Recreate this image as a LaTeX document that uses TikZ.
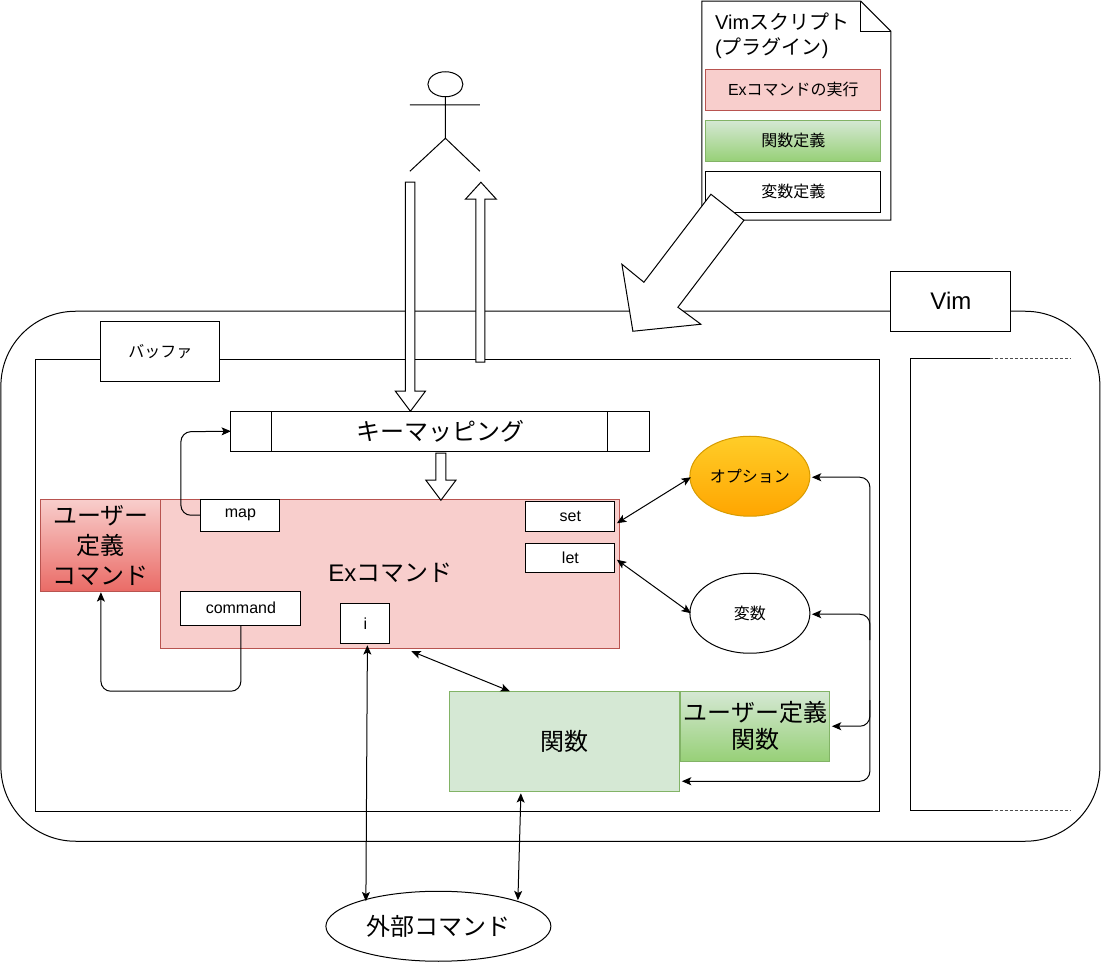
\documentclass[tikz,border=0pt]{standalone}
\usepackage{fontspec}
\setmainfont{Liberation Sans}
\newfontfamily\cjk{Noto Sans CJK JP}
\newcommand{\J}[1]{{\cjk #1}}
\newcommand{\up}[1]{\raisebox{1.5pt}{#1}}
\usetikzlibrary{arrows.meta,calc,shapes.geometric}
\definecolor{redfill}{HTML}{F8CECC}
\definecolor{redline}{HTML}{B85450}
\definecolor{redend}{HTML}{EA6B66}
\definecolor{greenfill}{HTML}{D5E8D4}
\definecolor{greenline}{HTML}{82B366}
\definecolor{greenend}{HTML}{97D077}
\definecolor{orangetop}{HTML}{FFCD28}
\definecolor{orangeend}{HTML}{FFA500}
\definecolor{orangeline}{HTML}{D79B00}
\newcommand{\bx}[7][]{\node[plainbox,#2,minimum width={(#5-#3)*0.75pt},minimum height={(#6-#4)*0.75pt},#1] at ({(#3+#5)/2},{(#4+#6)/2}) {#7};}
\tikzset{
  plainbox/.style={draw=black,rectangle,inner sep=0pt,outer sep=0pt,line width=0.75pt,align=center,font=\fontsize{12}{15}\selectfont},
  whitebox/.style={fill=white},
  big/.style={font=\fontsize{18}{22.5}\selectfont},
  bigtight/.style={font=\fontsize{18}{20.25}\selectfont},
  mid/.style={font=\fontsize{15}{18.75}\selectfont},
  exfill/.style={draw=redline,fill=redfill},
  fnfill/.style={draw=greenline,fill=greenfill},
  usercmd/.style={draw=redline,top color=redfill,bottom color=redend},
  userfn/.style={draw=greenline,top color=greenfill,bottom color=greenend},
  oval/.style={draw=black,ellipse,inner sep=0pt,outer sep=0pt,line width=0.75pt,align=center,font=\fontsize{12}{15}\selectfont},
  conn/.style={line width=0.75pt,-{Stealth[length=7pt,width=6pt,inset=1.6pt]}},
  conn2/.style={line width=0.75pt,{Stealth[length=7pt,width=6pt,inset=1.6pt]}-{Stealth[length=7pt,width=6pt,inset=1.6pt]}},
  roundpath/.style={rounded corners=7.5pt},
  blockarrow/.style={draw=black,fill=white,line width=0.75pt,line join=miter},
  thinline/.style={line width=0.75pt},
  dots/.style={line width=0.75pt,dash pattern=on 2.25pt off 1.5pt,black!70}
}
\begin{document}
\begin{tikzpicture}[x=0.75pt,y=-0.75pt]
\useasboundingbox (0.1,-0.25) rectangle (1101.1,961.75);
% containers
\draw[thinline,rounded corners=56pt] (1,311) rectangle (1100,841);
\bx{name=buffer,fill=white}{36}{359}{880}{811}{}
\bx{name=bufname,whitebox}{101}{321}{220}{381}{\J{バッファ}}
\bx[big]{name=vim,whitebox}{891}{271}{1011}{331}{Vim}
% other buffer (open rectangle)
\coordinate (ot) at (990,358);
\coordinate (ob) at (990,810);
\draw[thinline] (ot) -- (911,358) -- (911,810) -- (ob);
\draw[dots] (ot) -- (1071,358);
\draw[dots] (ob) -- (1071,810);
% key mapping
\bx[big]{name=keymap,whitebox}{231}{411}{650}{451}{\up{\J{キーマッピング}}}
\draw[thinline] (272,411) -- (272,451) (608,411) -- (608,451);
% Ex commands
\bx[big]{name=ex,exfill}{161}{499}{620}{648}{\up{Ex\J{コマンド}}}
\bx[big]{name=ucmd,usercmd}{41}{499}{161}{591}{\J{ユーザー}\\\J{定義}\\\J{コマンド}}
\bx{name=map,whitebox}{201}{499}{280}{531}{\raisebox{-1pt}{map}}
\bx{name=set,whitebox}{526}{501}{615}{531}{set}
\bx{name=let,whitebox}{526}{543}{615}{572}{let}
\bx{name=command,whitebox}{181}{591}{301}{625}{command}
\bx{name=insp,whitebox}{341}{603}{390}{643}{i}
% functions
\bx[big]{name=func,fnfill}{450}{691}{680}{791}{\up{\J{関数}}}
\bx[bigtight]{name=ufunc,userfn}{681}{691}{830}{761}{\J{ユーザー定義}\\\J{関数}}
% ellipses
\node[oval,draw=orangeline,top color=orangetop,bottom color=orangeend,minimum width=90pt,minimum height=60pt] (opt) at (750,476) {\J{オプション}};
\node[oval,fill=white,minimum width=90pt,minimum height=60pt] (var) at (750,613) {\J{変数}};
\node[oval,fill=white,minimum width=168.75pt,minimum height=52.5pt,font=\fontsize{18}{22.5}\selectfont] (ext) at (438.5,926) {\up{\J{外部コマンド}}};
% script document
\draw[thinline,fill=white,line join=miter] (702,1) -- (861,1) -- (891,31) -- (891,220) -- (702,220) -- cycle;
\draw[thinline] (861,1) -- (861,31) -- (891,31);
\node[mid,anchor=north west,inner sep=0pt,align=left] (doctitle) at (715,12) {Vim\J{スクリプト}\\(\J{プラグイン})};
\bx{name=s1,exfill}{706}{69}{881}{110}{Ex\J{コマンドの実行}}
\bx{name=s2,userfn}{706}{120}{881}{161}{\J{関数定義}}
\bx{name=s3,whitebox}{706}{171}{881}{212}{\J{変数定義}}
% stick figure
\node[draw=black,ellipse,line width=0.75pt,inner sep=0pt,outer sep=0pt,minimum width=26.25pt,minimum height=18.75pt] (head) at (445.5,84) {};
\coordinate (hip) at (445.5,138);
\draw[thinline] (head.south) -- (hip) (410,104.7) -- (480,104.7) (410,171) -- (hip) -- (480,171);
% block arrows
\draw[blockarrow] (405.5,182) -- (415,182) -- (415,391) -- (425.5,391) -- (410.5,411) -- (395.5,391) -- (405.5,391) -- cycle;
\draw[blockarrow] (476,362) -- (485,362) -- (485,199) -- (496.5,199) -- (481,182) -- (465.5,199) -- (476,199) -- cycle;
\draw[blockarrow] (436,453) -- (446,453) -- (446,480) -- (456,480) -- (441,500) -- (426,480) -- (436,480) -- cycle;
\draw[blockarrow] (711,194) -- (744,220) -- (678,307) -- (701,324) -- (633,331) -- (622,264) -- (644,282) -- cycle;
% connectors
\draw[conn,roundpath] (map.west) -- ++(-20,0) -- (181,431.5) -- (keymap.west);
\draw[conn,roundpath] (command.south) -- (241,691) -- (101,691) -- ($(ucmd.south)+(0,1)$);
\draw[conn2] ($(set.east)+(2,7)$) -- ($(opt.west)+(1,1)$);
\draw[conn2] ($(let.east)+(2,2)$) -- ($(var.west)+(1,0)$);
\draw[conn2] ($(ex.south)+(21,3)$) -- ($(func.north)+(-55,0)$);
\draw[conn2] ($(insp.south)+(2,2)$) -- ($(ext.center)+(-72.5,-25)$);
\draw[conn2] ($(func.south)+(-44,2)$) -- ($(ext.center)+(79.5,-26)$);
% bus on the right
\draw[conn2,roundpath] ($(opt.east)+(2,1)$) -- (870,477) -- (870,781) -- ($(func.east)+(2,40)$);
\draw[conn,roundpath] (870,640) -- (870,614) -- ($(var.east)+(2,1)$);
\draw[conn,roundpath] (870,700) -- (870,726) -- ($(ufunc.east)+(2,0)$);
\end{tikzpicture}
\end{document}
